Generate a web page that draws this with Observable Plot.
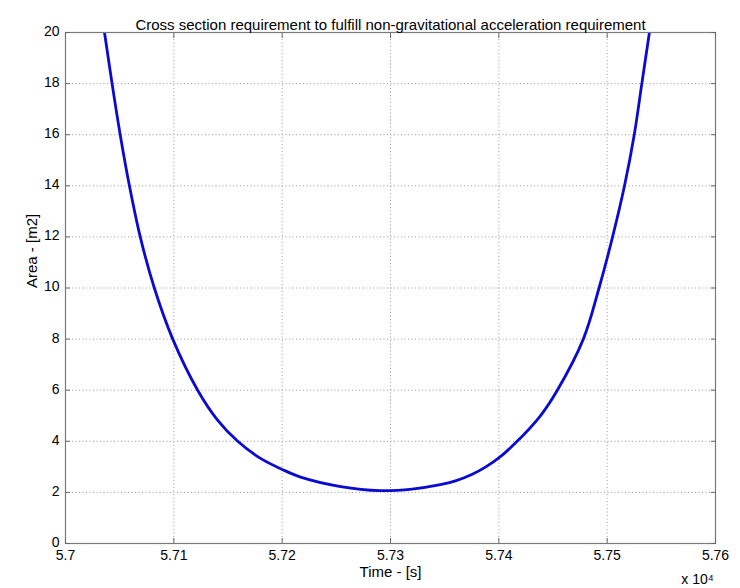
<!DOCTYPE html>
<html>
<head>
<meta charset="utf-8">
<script src="https://cdn.jsdelivr.net/npm/d3@7"></script>
<script src="https://cdn.jsdelivr.net/npm/@observablehq/plot@0.6"></script>
<style>
  html, body { margin: 0; padding: 0; background: #fff; }
  #chart svg { display: block; }
</style>
</head>
<body>
<div id="chart"></div>
<script>
const titleText = "Cross section requirement to fulfill non-gravitational acceleration requirement";
const xLabel = "Time - [s]";
const yLabel = "Area - [m2]";
const xExponent = "x 10\u2074";

// Time [s] and area [m2]
const timeS = [57036, 57043, 57050.5, 57059, 57069, 57082, 57099, 57122, 57140, 57159, 57180, 57200, 57217, 57254, 57290, 57320, 57346, 57360, 57375, 57388, 57400, 57415, 57438, 57454, 57478, 57492.5, 57505, 57516, 57525, 57532, 57539];
const areaM2 = [20, 18, 16, 14, 12, 10, 8, 6, 4.85, 4, 3.33, 2.9, 2.6, 2.23, 2.07, 2.13, 2.3, 2.45, 2.7, 3.0, 3.35, 3.92, 4.98, 6, 8, 10, 12, 14, 16, 18, 20];

const xTicks = [57000, 57100, 57200, 57300, 57400, 57500, 57600];
const yTicks = [0, 2, 4, 6, 8, 10, 12, 14, 16, 18, 20];
const xGrid = [57100, 57200, 57300, 57400, 57500];
const yGrid = [2, 4, 6, 8, 10, 12, 14, 16, 18];

const data = timeS.map((t, i) => ({t, a: areaM2[i]}));
const fmtX = d => String(+(d / 1e4).toFixed(2));
const blank = () => "";

const chart = Plot.plot({
  width: 740,
  height: 588,
  marginTop: 32,
  marginBottom: 45,
  marginLeft: 65,
  marginRight: 25,
  style: {fontFamily: "'Liberation Sans', Arial, sans-serif", fontSize: "14px", color: "#000", background: "#fff"},
  x: {domain: [57000, 57600], ticks: xTicks, tickFormat: fmtX},
  y: {domain: [0, 20], ticks: yTicks},
  marks: [
    Plot.gridX(xGrid, {stroke: "#9a9a9a", strokeOpacity: 1, strokeDasharray: "1,2.5", strokeWidth: 1}),
    Plot.gridY(yGrid, {stroke: "#9a9a9a", strokeOpacity: 1, strokeDasharray: "1,2.5", strokeWidth: 1}),
    Plot.line(data, {x: "t", y: "a", stroke: "#0a0ad2", strokeWidth: 2.8, curve: "catmull-rom", clip: true}),
    Plot.frame({stroke: "#7a7a7a", strokeWidth: 1.2}),
    Plot.axisX(xTicks, {anchor: "bottom", tickSize: 0, tickPadding: 7, tickFormat: fmtX, label: null, fontSize: 14}),
    Plot.axisY(yTicks, {anchor: "left", tickSize: 0, tickPadding: 6, dy: -1, label: null, fontSize: 14}),
    Plot.axisX(xTicks, {anchor: "bottom", tickSize: 5, dy: -5, tickFormat: blank, label: null, stroke: "#666"}),
    Plot.axisX(xTicks, {anchor: "top", tickSize: 5, dy: 5, tickFormat: blank, label: null, stroke: "#666"}),
    Plot.axisY(yTicks, {anchor: "left", tickSize: 5, dx: 5, tickFormat: blank, label: null, stroke: "#666"}),
    Plot.axisY(yTicks, {anchor: "right", tickSize: 5, dx: -5, tickFormat: blank, label: null, stroke: "#666"}),
    Plot.text([titleText], {text: d => d, frameAnchor: "top", dy: -13, fontSize: 15}),
    Plot.text([xLabel], {text: d => d, frameAnchor: "bottom", dy: 33, fontSize: 15}),
    Plot.text([xExponent], {text: d => d, frameAnchor: "bottom-right", dy: 40, dx: -18, fontSize: 14, textAnchor: "middle"}),
    Plot.text([yLabel], {text: d => d, frameAnchor: "left", dx: -33, rotate: -90, fontSize: 15})
  ]
});
document.getElementById("chart").appendChild(chart);
</script>
</body>
</html>
